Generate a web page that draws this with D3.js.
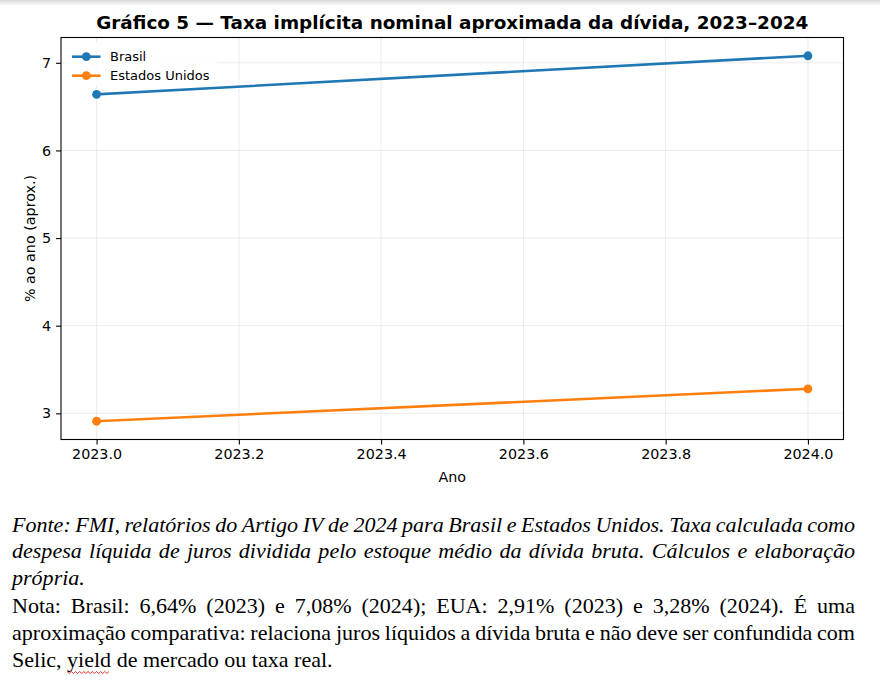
<!DOCTYPE html>
<html lang="pt">
<head>
<meta charset="UTF-8">
<title>Gráfico 5</title>
<script src="https://d3js.org/d3.v7.min.js"></script>
<style>
  body { margin: 0; background: #fff; }
  svg { display: block; }
</style>
</head>
<body>
<svg width="880" height="685"></svg>
<script>
    // data
    var years = [2023, 2024];
    var brasil = [6.64, 7.08];
    var eua = [2.91, 3.28];
    var seriesNames = ["Brasil", "Estados Unidos"];
    var xTicks = [2023.0, 2023.2, 2023.4, 2023.6, 2023.8, 2024.0];
    var yTicks = [3, 4, 5, 6, 7];

    var fonteLines = [
        "Fonte: FMI, relatórios do Artigo IV de 2024 para Brasil e Estados Unidos. Taxa calculada como",
        "despesa líquida de juros dividida pelo estoque médio da dívida bruta. Cálculos e elaboração",
        "própria."
    ];
    var notaLines = [
        "Nota: Brasil: 6,64% (2023) e 7,08% (2024); EUA: 2,91% (2023) e 3,28% (2024). É uma",
        "aproximação comparativa: relaciona juros líquidos a dívida bruta e não deve ser confundida com",
        "Selic, yield de mercado ou taxa real."
    ];

    var colors = ["#1f77b4", "#ff7f0e"];
    var plot = {left: 61, right: 843.5, top: 37.5, bottom: 439.5};
    var mpl = "'DejaVu Sans', sans-serif";

    var svg = d3.select("svg");

    // faint grey strip along the top edge (screenshot border)
    var defs = svg.append("defs");
    var grad = defs.append("linearGradient").attr("id", "topfade")
        .attr("x1", 0).attr("y1", 0).attr("x2", 0).attr("y2", 1);
    grad.append("stop").attr("offset", "0%").attr("stop-color", "#d9d9d9");
    grad.append("stop").attr("offset", "100%").attr("stop-color", "#ffffff");
    svg.append("rect").attr("x", 0).attr("y", 0).attr("width", 880).attr("height", 6)
        .attr("fill", "url(#topfade)");

    // matplotlib-like autoscale margins (5%)
    var allY = brasil.concat(eua);
    var yMin = d3.min(allY), yMax = d3.max(allY);
    var yPad = (yMax - yMin) * 0.05;
    var xPad = (years[1] - years[0]) * 0.05;

    var x = d3.scaleLinear()
        .domain([years[0] - xPad, years[1] + xPad])
        .range([plot.left, plot.right]);
    var y = d3.scaleLinear()
        .domain([yMin - yPad, yMax + yPad])
        .range([plot.bottom, plot.top]);

    // grid
    var grid = svg.append("g").attr("stroke", "#b0b0b0").attr("stroke-opacity", 0.3)
        .attr("stroke-width", 0.8);
    grid.selectAll("line.gx").data(xTicks).enter().append("line")
        .attr("x1", function (d) { return x(d); }).attr("x2", function (d) { return x(d); })
        .attr("y1", plot.top).attr("y2", plot.bottom);
    grid.selectAll("line.gy").data(yTicks).enter().append("line")
        .attr("y1", function (d) { return y(d); }).attr("y2", function (d) { return y(d); })
        .attr("x1", plot.left).attr("x2", plot.right);

    // series
    var series = [brasil, eua].map(function (vals, i) {
        return {name: seriesNames[i], color: colors[i],
            points: years.map(function (yr, j) { return {x: yr, y: vals[j]}; })};
    });
    var line = d3.line().x(function (d) { return x(d.x); }).y(function (d) { return y(d.y); });

    var sg = svg.append("g").selectAll("g").data(series).enter().append("g");
    sg.append("path")
        .attr("d", function (d) { return line(d.points); })
        .attr("fill", "none")
        .attr("stroke", function (d) { return d.color; })
        .attr("stroke-width", 2.6)
        .attr("stroke-linecap", "square");
    sg.selectAll("circle").data(function (d) {
        return d.points.map(function (p) { return {p: p, c: d.color}; });
    }).enter().append("circle")
        .attr("cx", function (d) { return x(d.p.x); })
        .attr("cy", function (d) { return y(d.p.y); })
        .attr("r", 4.4)
        .attr("fill", function (d) { return d.c; });

    // axes
    var xAxis = svg.append("g")
        .attr("transform", "translate(0," + plot.bottom + ")")
        .call(d3.axisBottom(x).tickValues(xTicks).tickFormat(d3.format(".1f"))
            .tickSize(5).tickPadding(4.5));
    var yAxis = svg.append("g")
        .attr("transform", "translate(" + plot.left + ",0)")
        .call(d3.axisLeft(y).tickValues(yTicks).tickFormat(d3.format("d"))
            .tickSize(5).tickPadding(5));
    [xAxis, yAxis].forEach(function (ax) {
        ax.select(".domain").remove();
        ax.selectAll(".tick line").attr("stroke", "#000").attr("stroke-width", 1.1);
        ax.selectAll(".tick text").attr("fill", "#000")
            .style("font-family", mpl).style("font-size", "14.3px");
    });

    // spines
    svg.append("rect")
        .attr("x", plot.left).attr("y", plot.top)
        .attr("width", plot.right - plot.left).attr("height", plot.bottom - plot.top)
        .attr("fill", "none").attr("stroke", "#000").attr("stroke-width", 1.1);

    // legend
    var lg = svg.append("g").attr("transform", "translate(65,42)");
    lg.append("rect").attr("width", 152).attr("height", 44).attr("rx", 3)
        .attr("fill", "#fff").attr("fill-opacity", 0.8);
    var li = lg.selectAll("g.item").data(series).enter().append("g")
        .attr("transform", function (d, i) { return "translate(0," + (14.7 + i * 19) + ")"; });
    li.append("line").attr("x1", 7).attr("x2", 35.5)
        .attr("stroke", function (d) { return d.color; }).attr("stroke-width", 2.6);
    li.append("circle").attr("cx", 21.3).attr("r", 4.4)
        .attr("fill", function (d) { return d.color; });
    li.append("text").attr("x", 45).attr("dy", "0.36em")
        .style("font-family", mpl).style("font-size", "13px").attr("fill", "#000")
        .text(function (d) { return d.name; });

    // titles
    svg.append("text")
        .attr("x", (plot.left + plot.right) / 2).attr("y", 29)
        .attr("text-anchor", "middle")
        .style("font-family", mpl).style("font-size", "18.4px").style("font-weight", "bold")
        .text("Gráfico 5 — Taxa implícita nominal aproximada da dívida, 2023–2024");
    svg.append("text")
        .attr("x", (plot.left + plot.right) / 2).attr("y", 481.5)
        .attr("text-anchor", "middle")
        .style("font-family", mpl).style("font-size", "14.3px")
        .text("Ano");
    svg.append("text")
        .attr("transform", "translate(35," + ((plot.top + plot.bottom) / 2) + ") rotate(-90)")
        .attr("text-anchor", "middle")
        .style("font-family", mpl).style("font-size", "14.3px")
        .text("% ao ano (aprox.)");

    // notes below the chart, justified like the word processor
    var noteLeft = 12, noteRight = 855, sx = 1.05, fs = 21;
    var baselines = [531.5, 558, 584.5, 613, 640, 667];
    var allLines = fonteLines.map(function (t, i) {
        return {t: t, italic: true, last: i === fonteLines.length - 1};
    }).concat(notaLines.map(function (t, i) {
        return {t: t, italic: false, last: i === notaLines.length - 1};
    }));
    var innerW = (noteRight - noteLeft) / sx;

    allLines.forEach(function (ln, i) {
        var g = svg.append("g")
            .attr("transform", "translate(" + noteLeft + "," + baselines[i] + ") scale(" + sx + ",1)");
        var txt = g.append("text")
            .style("font-family", "'Liberation Serif', 'Times New Roman', serif")
            .style("font-size", fs + "px")
            .style("font-style", ln.italic ? "italic" : "normal")
            .attr("fill", "#000");
        var words = ln.t.split(" ");
        var spans = words.map(function (w) { return txt.append("tspan").text(w); });
        var widths = spans.map(function (s) { return s.node().getComputedTextLength(); });
        var spaceW = (function () {
            var t = g.append("text").style("font-family", "'Liberation Serif', serif")
                .style("font-size", fs + "px").text("a a");
            var t2 = g.append("text").style("font-family", "'Liberation Serif', serif")
                .style("font-size", fs + "px").text("aa");
            var w = t.node().getComputedTextLength() - t2.node().getComputedTextLength();
            t.remove(); t2.remove();
            return w;
        })();
        var gap = ln.last ? spaceW : (innerW - d3.sum(widths)) / (words.length - 1);
        var pos = 0;
        spans.forEach(function (s, k) {
            s.attr("x", pos);
            if (ln.last && words[k] === "yield") {
                // red spell-check squiggle
                var pts = [];
                for (var px = 0, up = true; px <= widths[k]; px += 2, up = !up) {
                    pts.push([pos + px, up ? 4.5 : 6.5]);
                }
                g.append("path").attr("d", d3.line()(pts))
                    .attr("fill", "none").attr("stroke", "#d22").attr("stroke-width", 0.9);
            }
            pos += widths[k] + gap;
        });
    });
</script>
</body>
</html>
